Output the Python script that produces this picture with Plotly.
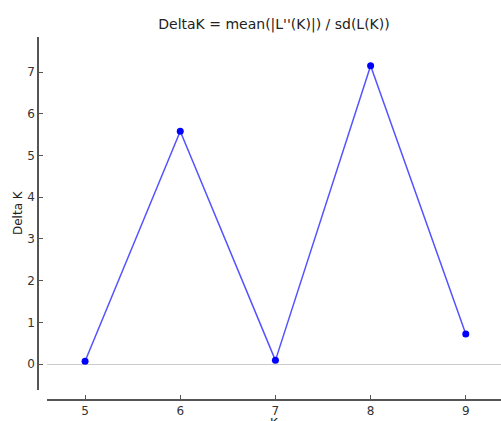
import plotly.graph_objects as go

K = [5, 6, 7, 8, 9]
delta_k = [0.07, 5.58, 0.09, 7.15, 0.72]
y_ticks = [0, 1, 2, 3, 4, 5, 6, 7]
x_ticks = [5, 6, 7, 8, 9]

W, H = 501, 421
ml, mr, mt, mb = 38, 0, 37, 21
pw, ph = W - ml - mr, H - mt - mb

fig = go.Figure()
fig.add_trace(go.Scatter(
    x=K, y=delta_k, mode="lines+markers",
    line=dict(color="rgba(40,40,255,0.8)", width=1.5),
    marker=dict(color="#0000ff", size=7),
    showlegend=False, cliponaxis=False,
))

axis_color = "#555555"
font = dict(family="DejaVu Sans", size=12, color="#333333")

fig.update_layout(
    width=W, height=H,
    margin=dict(l=ml, r=mr, t=mt, b=mb, autoexpand=False),
    paper_bgcolor="white", plot_bgcolor="white",
    font=font,
    title=dict(text="DeltaK = mean(|L''(K)|) / sd(L(K))",
               x=(47 + 501) / 2 / W, xanchor="center",
               y=1 - 24 / H, yanchor="middle", yref="container",
               font=dict(family="DejaVu Sans", size=14, color="#222222")),
    xaxis=dict(
        domain=[(47 - ml) / pw, 1], anchor="free", position=0,
        range=[4.6, 9.37], tickvals=x_ticks, automargin=False,
        showgrid=False, zeroline=False,
        showline=True, linecolor=axis_color, linewidth=1.5,
        ticks="inside", ticklen=4, tickcolor=axis_color,
    ),
    yaxis=dict(
        domain=[(400 - 390) / ph, 1], anchor="free", position=0,
        range=[-0.62, 7.84], tickvals=y_ticks, automargin=False,
        showgrid=False, zeroline=True, zerolinecolor="#cccccc", zerolinewidth=1,
        showline=True, linecolor=axis_color, linewidth=1.5,
        ticks="inside", ticklen=4, tickcolor=axis_color,
    ),
    annotations=[
        dict(text="K", xref="paper", yref="paper",
             x=((47 + 501) / 2 - ml) / pw, y=-14 / ph,
             xanchor="center", yanchor="top", showarrow=False,
             font=dict(size=12, color="#222222")),
        dict(text="Delta K", xref="paper", yref="paper",
             x=(18 - ml) / pw, y=1 - (213 - mt) / ph,
             xanchor="center", yanchor="middle", textangle=-90, showarrow=False,
             font=dict(size=12, color="#222222")),
    ],
)

fig.write_html("out.html", config={"displayModeBar": False},
               post_script="document.body.style.margin='0';document.body.style.overflow='hidden';")
